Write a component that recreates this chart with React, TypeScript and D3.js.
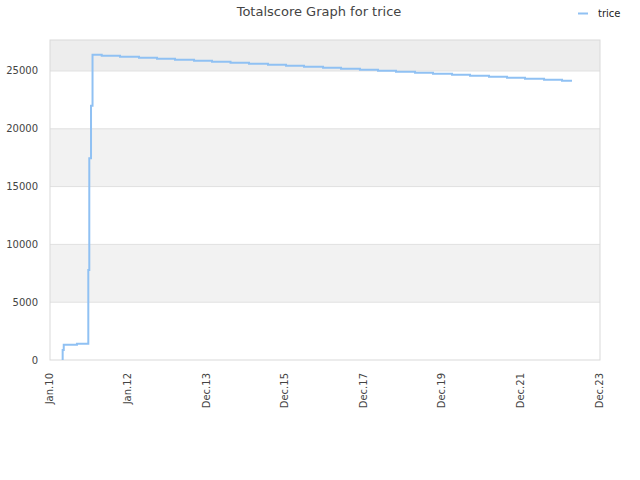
import React from "react";
import * as d3 from "d3";

const dates = [
  "2010-05-04", "2010-05-04", "2010-05-14", "2010-09-13", "2010-12-27", "2011-01-05",
  "2011-01-21", "2011-02-04", "2011-04-30", "2011-10-16", "2012-04-08", "2012-09-22",
  "2013-03-07", "2013-08-30", "2014-02-12", "2014-08-02", "2015-01-20", "2015-07-14",
  "2015-12-28", "2016-06-11", "2016-12-04", "2017-05-19", "2017-11-10", "2018-04-26",
  "2018-10-09", "2019-04-03", "2019-09-16", "2020-03-10", "2020-08-23", "2021-02-14",
  "2021-07-31", "2022-01-13", "2022-07-08", "2022-12-21", "2023-03-23",
];
const scores = [
  0, 865, 1325, 1410, 7785, 17450,
  22000, 26410, 26322, 26235, 26149, 26062,
  25976, 25890, 25803, 25717, 25630, 25544,
  25457, 25371, 25284, 25198, 25111, 25025,
  24938, 24851, 24765, 24678, 24592, 24505,
  24419, 24332, 24246, 24160, 24160,
];
const xDomain = ["2010-01-07", "2023-12-07"];
const xTickLabels = ["Jan.10", "Jan.12", "Dec.13", "Dec.15", "Dec.17", "Dec.19", "Dec.21", "Dec.23"];
const yTicks = [0, 5000, 10000, 15000, 20000, 25000];
const yMax = 27680;
const seriesName = "trice";
const title = "Totalscore Graph for trice";

const W = 640, H = 480;
const L = 50, R = 600, T = 40, B = 360;
const FONT = "DejaVu Sans, sans-serif";
const LINE = "#90c1f3";

export default function App() {
  const parse = d3.timeParse("%Y-%m-%d");
  const x = d3.scaleTime().domain(xDomain.map((d) => parse(d) as Date)).range([L, R]);
  const y = d3.scaleLinear().domain([0, yMax]).range([B, T]);
  const pts = dates.map((d, i) => ({ t: parse(d) as Date, v: scores[i] }));
  const line = d3
    .line<{ t: Date; v: number }>()
    .x((d) => x(d.t))
    .y((d) => y(d.v))
    .curve(d3.curveStepAfter);
  const [d0, d1] = x.domain();
  const tickDates = xTickLabels.map((_, i) =>
    new Date(d0.getTime() + ((d1.getTime() - d0.getTime()) * i) / (xTickLabels.length - 1))
  );
  const bands = yTicks.map((v, i) => ({ lo: v, hi: i + 1 < yTicks.length ? yTicks[i + 1] : yMax, i }));

  return (
    <svg width={W} height={H} style={{ position: "absolute", left: 0, top: 0, background: "#fff" }}>
      <rect x={0} y={0} width={W} height={H} fill="#fff" />
      {bands.map((b) =>
        b.i % 2 === 1 ? (
          <rect key={b.i} x={L} y={y(b.hi)} width={R - L} height={y(b.lo) - y(b.hi)}
            fill={b.hi === yMax ? "#ededed" : "#f2f2f2"} />
        ) : null
      )}
      {yTicks.slice(1).map((v) => (
        <line key={v} x1={L} x2={R} y1={y(v)} y2={y(v)} stroke="#e0e0e0" strokeWidth={1} />
      ))}
      <rect x={L} y={T} width={R - L} height={B - T} fill="none" stroke="#d9d9d9" strokeWidth={1} />
      {yTicks.map((v) => (
        <text key={v} x={38} y={y(v)} dy="0.35em" textAnchor="end" fontFamily={FONT} fontSize={10} fill="#444">
          {v}
        </text>
      ))}
      {tickDates.map((d, i) => (
        <text key={i} transform={`translate(${x(d) + 2.5},${B + 13}) rotate(-90)`} textAnchor="end"
          fontFamily={FONT} fontSize={10} fill="#444">
          {xTickLabels[i]}
        </text>
      ))}
      <path d={line(pts) || ""} fill="none" stroke={LINE} strokeWidth={2} />
      <text x={319} y={16} textAnchor="middle" fontFamily={FONT} fontSize={13} fill="#444">
        {title}
      </text>
      <line x1={578} x2={588} y1={13.5} y2={13.5} stroke={LINE} strokeWidth={2} />
      <text x={598} y={13.5} dy="0.35em" fontFamily={FONT} fontSize={10} fill="#222">
        {seriesName}
      </text>
    </svg>
  );
}
